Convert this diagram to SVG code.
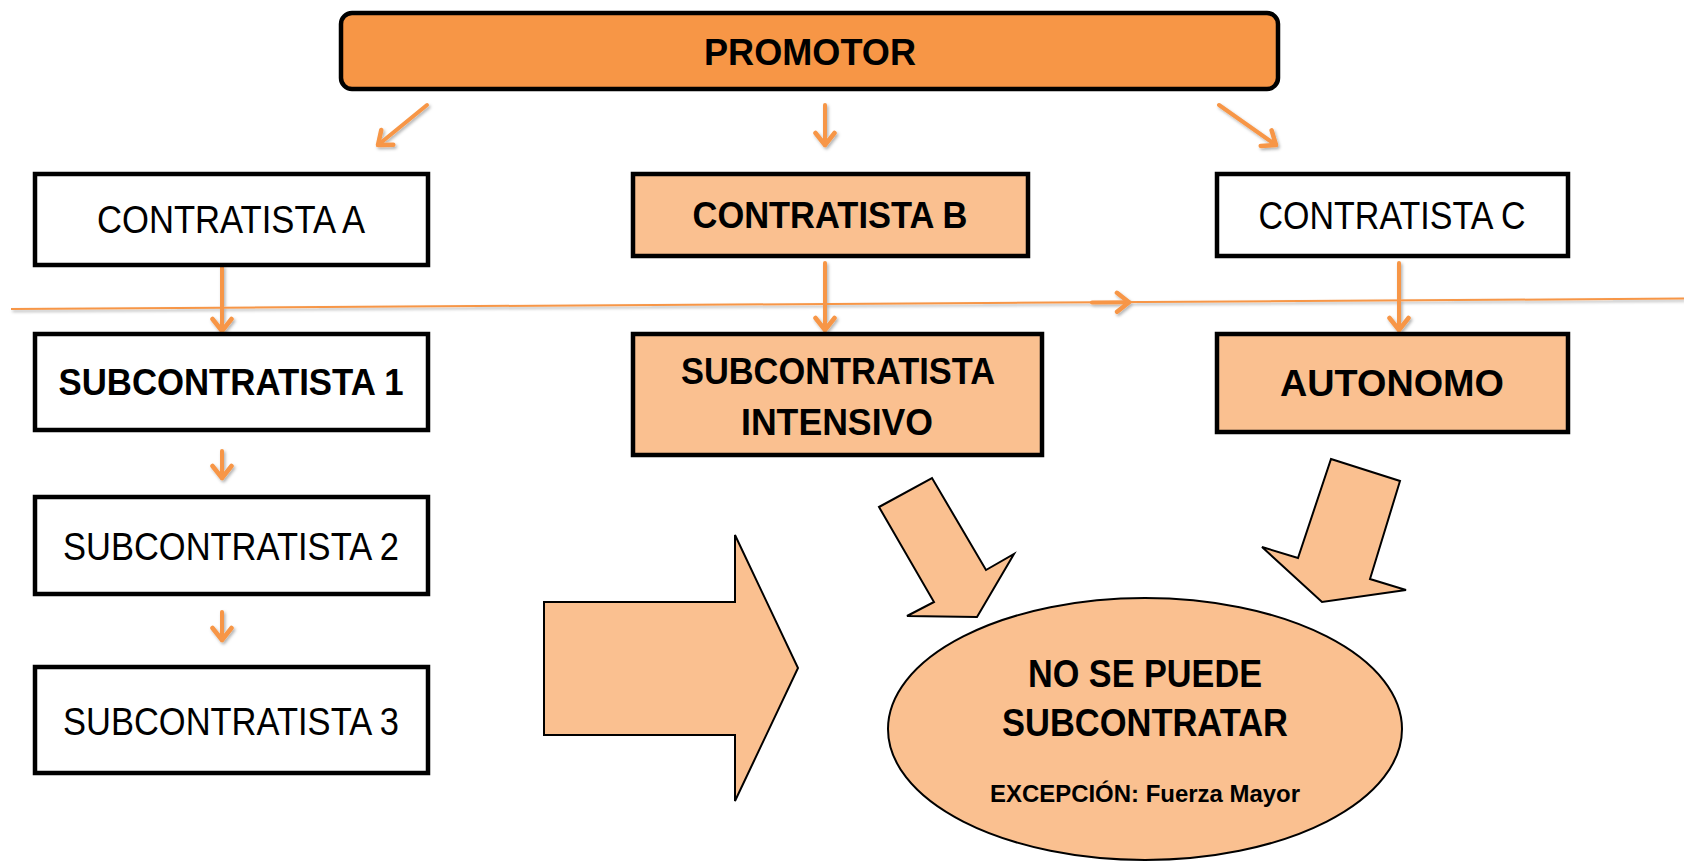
<svg xmlns="http://www.w3.org/2000/svg" width="1684" height="862" viewBox="0 0 1684 862">
<defs>
<style>
.box{stroke:#000;stroke-width:4.5}
.dark{fill:#F79646}
.light{fill:#FAC090}
.white{fill:#fff}
.shape{fill:#FAC090;stroke:#000;stroke-width:2}
.t{font-family:"Liberation Sans",Arial,sans-serif;fill:#000;text-anchor:middle}
.r{font-size:38px}
.b{font-size:37px;font-weight:bold}
.e{font-size:39px;font-weight:bold}
.s{font-size:23px;font-weight:bold}
.con{fill:none;stroke:#F79646;stroke-width:4;stroke-linecap:round}
.thin{fill:none;stroke:#F79646;stroke-width:2}
</style>
<marker id="ah" markerUnits="userSpaceOnUse" markerWidth="30" markerHeight="30" viewBox="-15 -15 30 30" refX="0" refY="0" orient="auto">
<path d="M-12,-9.5 L0,0 L-12,9.5" fill="none" stroke="#F79646" stroke-width="4.5" stroke-linecap="round" stroke-linejoin="round"/>
</marker>
<filter id="sh" x="-50%" y="-50%" width="200%" height="200%">
<feDropShadow dx="1.5" dy="2" stdDeviation="1.5" flood-color="#000" flood-opacity="0.3"/>
</filter>
</defs>

<g id="connectors" filter="url(#sh)">
<line class="thin" x1="11" y1="309" x2="1684" y2="298.6"/>
<line class="con" x1="1092" y1="302.5" x2="1129" y2="302.2" marker-end="url(#ah)"/>
<line class="con" x1="427" y1="105" x2="378" y2="145" marker-end="url(#ah)"/>
<line class="con" x1="825" y1="105" x2="825" y2="145" marker-end="url(#ah)"/>
<line class="con" x1="1219" y1="105" x2="1276" y2="145" marker-end="url(#ah)"/>
<line class="con" x1="222" y1="267" x2="222" y2="331" marker-end="url(#ah)"/>
<line class="con" x1="825" y1="263" x2="825" y2="330" marker-end="url(#ah)"/>
<line class="con" x1="1399" y1="263" x2="1399" y2="330" marker-end="url(#ah)"/>
<line class="con" x1="222" y1="451" x2="222" y2="478" marker-end="url(#ah)"/>
<line class="con" x1="222" y1="612" x2="222" y2="640" marker-end="url(#ah)"/>
</g>

<g id="promotor">
<rect class="box dark" x="341" y="13" width="937" height="76" rx="11"/>
<text class="t b" x="810" y="65" textLength="212" lengthAdjust="spacingAndGlyphs">PROMOTOR</text>
</g>

<g id="contratista-a">
<rect class="box white" x="35" y="174" width="393" height="91"/>
<text class="t r" x="231" y="233" textLength="268" lengthAdjust="spacingAndGlyphs">CONTRATISTA A</text>
</g>

<g id="contratista-b">
<rect class="box light" x="633" y="174" width="395" height="82"/>
<text class="t b" x="830" y="228" textLength="275" lengthAdjust="spacingAndGlyphs">CONTRATISTA B</text>
</g>

<g id="contratista-c">
<rect class="box white" x="1217" y="174" width="351" height="82"/>
<text class="t r" x="1392" y="229" textLength="267" lengthAdjust="spacingAndGlyphs">CONTRATISTA C</text>
</g>

<g id="subcontratista-1">
<rect class="box white" x="35" y="334" width="393" height="96"/>
<text class="t b" x="231" y="395" textLength="345" lengthAdjust="spacingAndGlyphs">SUBCONTRATISTA 1</text>
</g>

<g id="subcontratista-intensivo">
<rect class="box light" x="633" y="334" width="409" height="121"/>
<text class="t b" x="838" y="384" textLength="314" lengthAdjust="spacingAndGlyphs">SUBCONTRATISTA</text>
<text class="t b" x="837" y="435" textLength="192" lengthAdjust="spacingAndGlyphs">INTENSIVO</text>
</g>

<g id="autonomo">
<rect class="box light" x="1217" y="334" width="351" height="98"/>
<text class="t b" x="1392" y="396" textLength="224" lengthAdjust="spacingAndGlyphs">AUTONOMO</text>
</g>

<g id="subcontratista-2">
<rect class="box white" x="35" y="497" width="393" height="97"/>
<text class="t r" x="231" y="560" textLength="336" lengthAdjust="spacingAndGlyphs">SUBCONTRATISTA 2</text>
</g>

<g id="subcontratista-3">
<rect class="box white" x="35" y="667" width="393" height="106"/>
<text class="t r" x="231" y="735" textLength="336" lengthAdjust="spacingAndGlyphs">SUBCONTRATISTA 3</text>
</g>

<g id="big-arrow">
<polygon class="shape" points="544,602 735,602 735,535 798,668 735,801 735,735 544,735"/>
</g>

<g id="block-arrow-1">
<polygon class="shape" points="879,507 932,478 986,570 1014,554 977,617 907,616 934,602"/>
</g>

<g id="block-arrow-2">
<polygon class="shape" points="1331,459 1400,481 1370,579 1406,590 1322,602 1262,547 1298,558"/>
</g>

<g id="no-subcontratar">
<ellipse class="shape" cx="1145" cy="729" rx="257" ry="131"/>
<text class="t e" x="1145" y="687" textLength="234" lengthAdjust="spacingAndGlyphs">NO SE PUEDE</text>
<text class="t e" x="1145" y="736" textLength="286" lengthAdjust="spacingAndGlyphs">SUBCONTRATAR</text>
<text class="t s" x="1145" y="802" textLength="310" lengthAdjust="spacingAndGlyphs">EXCEPCIÓN: Fuerza Mayor</text>
</g>
</svg>
